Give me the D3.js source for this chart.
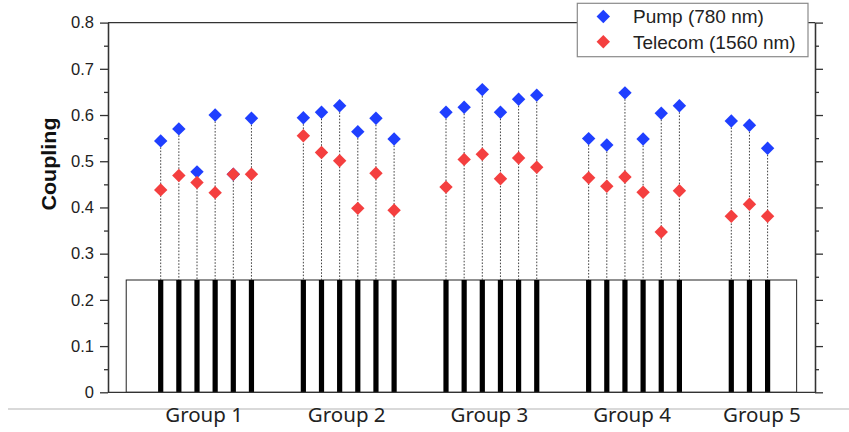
<!DOCTYPE html>
<html>
<head>
<meta charset="utf-8">
<script src="https://cdn.jsdelivr.net/npm/d3@7"></script>
<style>
  html, body { margin: 0; padding: 0; background: #fff; }
  svg { display: block; }
</style>
</head>
<body>
<svg id="chart" width="849" height="432"></svg>
<script>
// ---- data ----
const groups = ["Group 1", "Group 2", "Group 3", "Group 4", "Group 5"];
const pumpValues = [
  [0.544, 0.570, 0.477, 0.600, 0.472, 0.593],
  [0.594, 0.606, 0.620, 0.564, 0.593, 0.548],
  [0.606, 0.617, 0.655, 0.606, 0.634, 0.643],
  [0.549, 0.535, 0.648, 0.548, 0.604, 0.620],
  [0.587, 0.578, 0.528]
];
const telecomValues = [
  [0.438, 0.469, 0.454, 0.432, 0.472, 0.472],
  [0.555, 0.519, 0.501, 0.398, 0.474, 0.394],
  [0.444, 0.504, 0.515, 0.462, 0.507, 0.487],
  [0.464, 0.446, 0.466, 0.433, 0.347, 0.436],
  [0.381, 0.407, 0.381]
];
const boxValue = 0.243;
const yTicks = [0, 0.1, 0.2, 0.3, 0.4, 0.5, 0.6, 0.7, 0.8];
const yMinorTicks = [0.05, 0.15, 0.25, 0.35, 0.45, 0.55, 0.65, 0.75];
const seriesNames = ["Pump (780 nm)", "Telecom (1560 nm)"];
const seriesColors = ["#1f3fff", "#f43f3f"];
const yLabel = "Coupling";

// ---- layout ----
const svg = d3.select("#chart");
const plotL = 108, plotR = 815, plotT = 22.6, plotB = 392.3;

const y = d3.scaleLinear().domain([0, 0.8]).range([plotB, plotT]);
const xGroup = d3.scaleBand().domain(groups).range([160.7, 160.7 + 5 * 142.65]).paddingInner(0).paddingOuter(0);
const xInner = d3.scaleLinear().domain([0, 5]).range([0, 5 * 18.15]);
const xPos = (g, i) => xGroup(g) + xInner(i);

// flatten points
const points = [];
groups.forEach((g, gi) => {
  pumpValues[gi].forEach((p, i) => {
    points.push({ g, i, pump: p, tel: telecomValues[gi][i] });
  });
});

// light gray separator line
svg.append("line")
  .attr("x1", 8).attr("x2", 849).attr("y1", 409).attr("y2", 409)
  .attr("stroke", "#b4b4b4").attr("stroke-width", 1.2);

// box
const boxL = xPos(groups[0], -1.9);
const boxR = xPos(groups[4], 3.6);
svg.append("rect")
  .attr("x", boxL).attr("y", y(boxValue))
  .attr("width", boxR - boxL).attr("height", y(0) - y(boxValue))
  .attr("fill", "#fff").attr("stroke", "#222").attr("stroke-width", 1);

// bars
svg.append("g").selectAll("rect").data(points).join("rect")
  .attr("x", d => xPos(d.g, d.i) - 2.6)
  .attr("width", 5.2)
  .attr("y", y(boxValue))
  .attr("height", y(0) - y(boxValue))
  .attr("fill", "#000");

// dotted stems
svg.append("g").selectAll("line").data(points).join("line")
  .attr("x1", d => xPos(d.g, d.i)).attr("x2", d => xPos(d.g, d.i))
  .attr("y1", d => y(Math.max(d.pump, d.tel))).attr("y2", y(boxValue))
  .attr("stroke", "#444").attr("stroke-width", 1)
  .attr("stroke-dasharray", "1.6,1.6");

// markers
const diamond = d3.symbol().type(d3.symbolSquare).size(90);
svg.append("g").selectAll("path").data(points).join("path")
  .attr("d", diamond)
  .attr("transform", d => `translate(${xPos(d.g, d.i)},${y(d.pump)}) rotate(45)`)
  .attr("fill", seriesColors[0]);
svg.append("g").selectAll("path").data(points).join("path")
  .attr("d", diamond)
  .attr("transform", d => `translate(${xPos(d.g, d.i)},${y(d.tel)}) rotate(45)`)
  .attr("fill", seriesColors[1]);

// axes
const axisColor = "#333";
const fmt = d => d === 0 ? "0" : d3.format(".1f")(d);
const gLeft = svg.append("g").attr("transform", `translate(${plotL},0)`)
  .call(d3.axisLeft(y).tickValues(yTicks).tickFormat(fmt).tickSize(8).tickSizeOuter(0).tickPadding(6));
const gLeftMinor = svg.append("g").attr("transform", `translate(${plotL},0)`)
  .call(d3.axisLeft(y).tickValues(yMinorTicks).tickFormat("").tickSize(4).tickSizeOuter(0));
const gRight = svg.append("g").attr("transform", `translate(${plotR},0)`)
  .call(d3.axisRight(y).tickValues(yTicks).tickFormat("").tickSize(8).tickSizeOuter(0));
const gRightMinor = svg.append("g").attr("transform", `translate(${plotR},0)`)
  .call(d3.axisRight(y).tickValues(yMinorTicks).tickFormat("").tickSize(4).tickSizeOuter(0));
[gLeft, gLeftMinor, gRight, gRightMinor].forEach(g => {
  g.selectAll("path, line").attr("stroke", axisColor).attr("stroke-width", 1.3);
});
gLeft.selectAll("text")
  .attr("font-family", "'Liberation Sans', Arial, sans-serif")
  .attr("font-size", 16.5).attr("fill", "#222");

// top and bottom frame lines
svg.append("line").attr("x1", plotL).attr("x2", plotR).attr("y1", y(0.8)).attr("y2", y(0.8))
  .attr("stroke", axisColor).attr("stroke-width", 1.3);
svg.append("line").attr("x1", plotL).attr("x2", plotR).attr("y1", y(0)).attr("y2", y(0))
  .attr("stroke", axisColor).attr("stroke-width", 1.3);

// y label
svg.append("text")
  .attr("transform", `translate(56,${(118 + 210) / 2}) rotate(-90)`)
  .attr("text-anchor", "middle")
  .attr("font-family", "'Liberation Sans', Arial, sans-serif")
  .attr("font-weight", "bold").attr("font-size", 20)
  .attr("textLength", 93).attr("lengthAdjust", "spacingAndGlyphs")
  .attr("fill", "#111")
  .text(yLabel);

// group labels
svg.append("g").selectAll("text").data(groups).join("text")
  .attr("x", g => {
    const x0 = xPos(g, 0);
    const x1 = Math.min(xPos(g, 5), boxR);
    return (x0 + x1) / 2 - 2;
  })
  .attr("y", 422)
  .attr("text-anchor", "middle")
  .attr("font-family", "'Noto Sans', 'Open Sans', sans-serif")
  .attr("font-size", 20.5)
  .attr("fill", "#222")
  .text(d => d);

// legend
const lg = svg.append("g");
lg.append("rect").attr("x", 577.3).attr("y", 3.3).attr("width", 230.7).attr("height", 53.4)
  .attr("fill", "#fff").attr("stroke", "#8a8a8a").attr("stroke-width", 1.2);
const legendRows = [16.5, 41.7];
seriesNames.forEach((name, k) => {
  lg.append("path").attr("d", diamond)
    .attr("transform", `translate(603.3,${legendRows[k]}) rotate(45)`)
    .attr("fill", seriesColors[k]);
  lg.append("text").attr("x", 633).attr("y", legendRows[k] + 6.8)
    .attr("font-family", "'Liberation Sans', Arial, sans-serif")
    .attr("font-size", 19).attr("fill", "#222")
    .text(name);
});
</script>
</body>
</html>
